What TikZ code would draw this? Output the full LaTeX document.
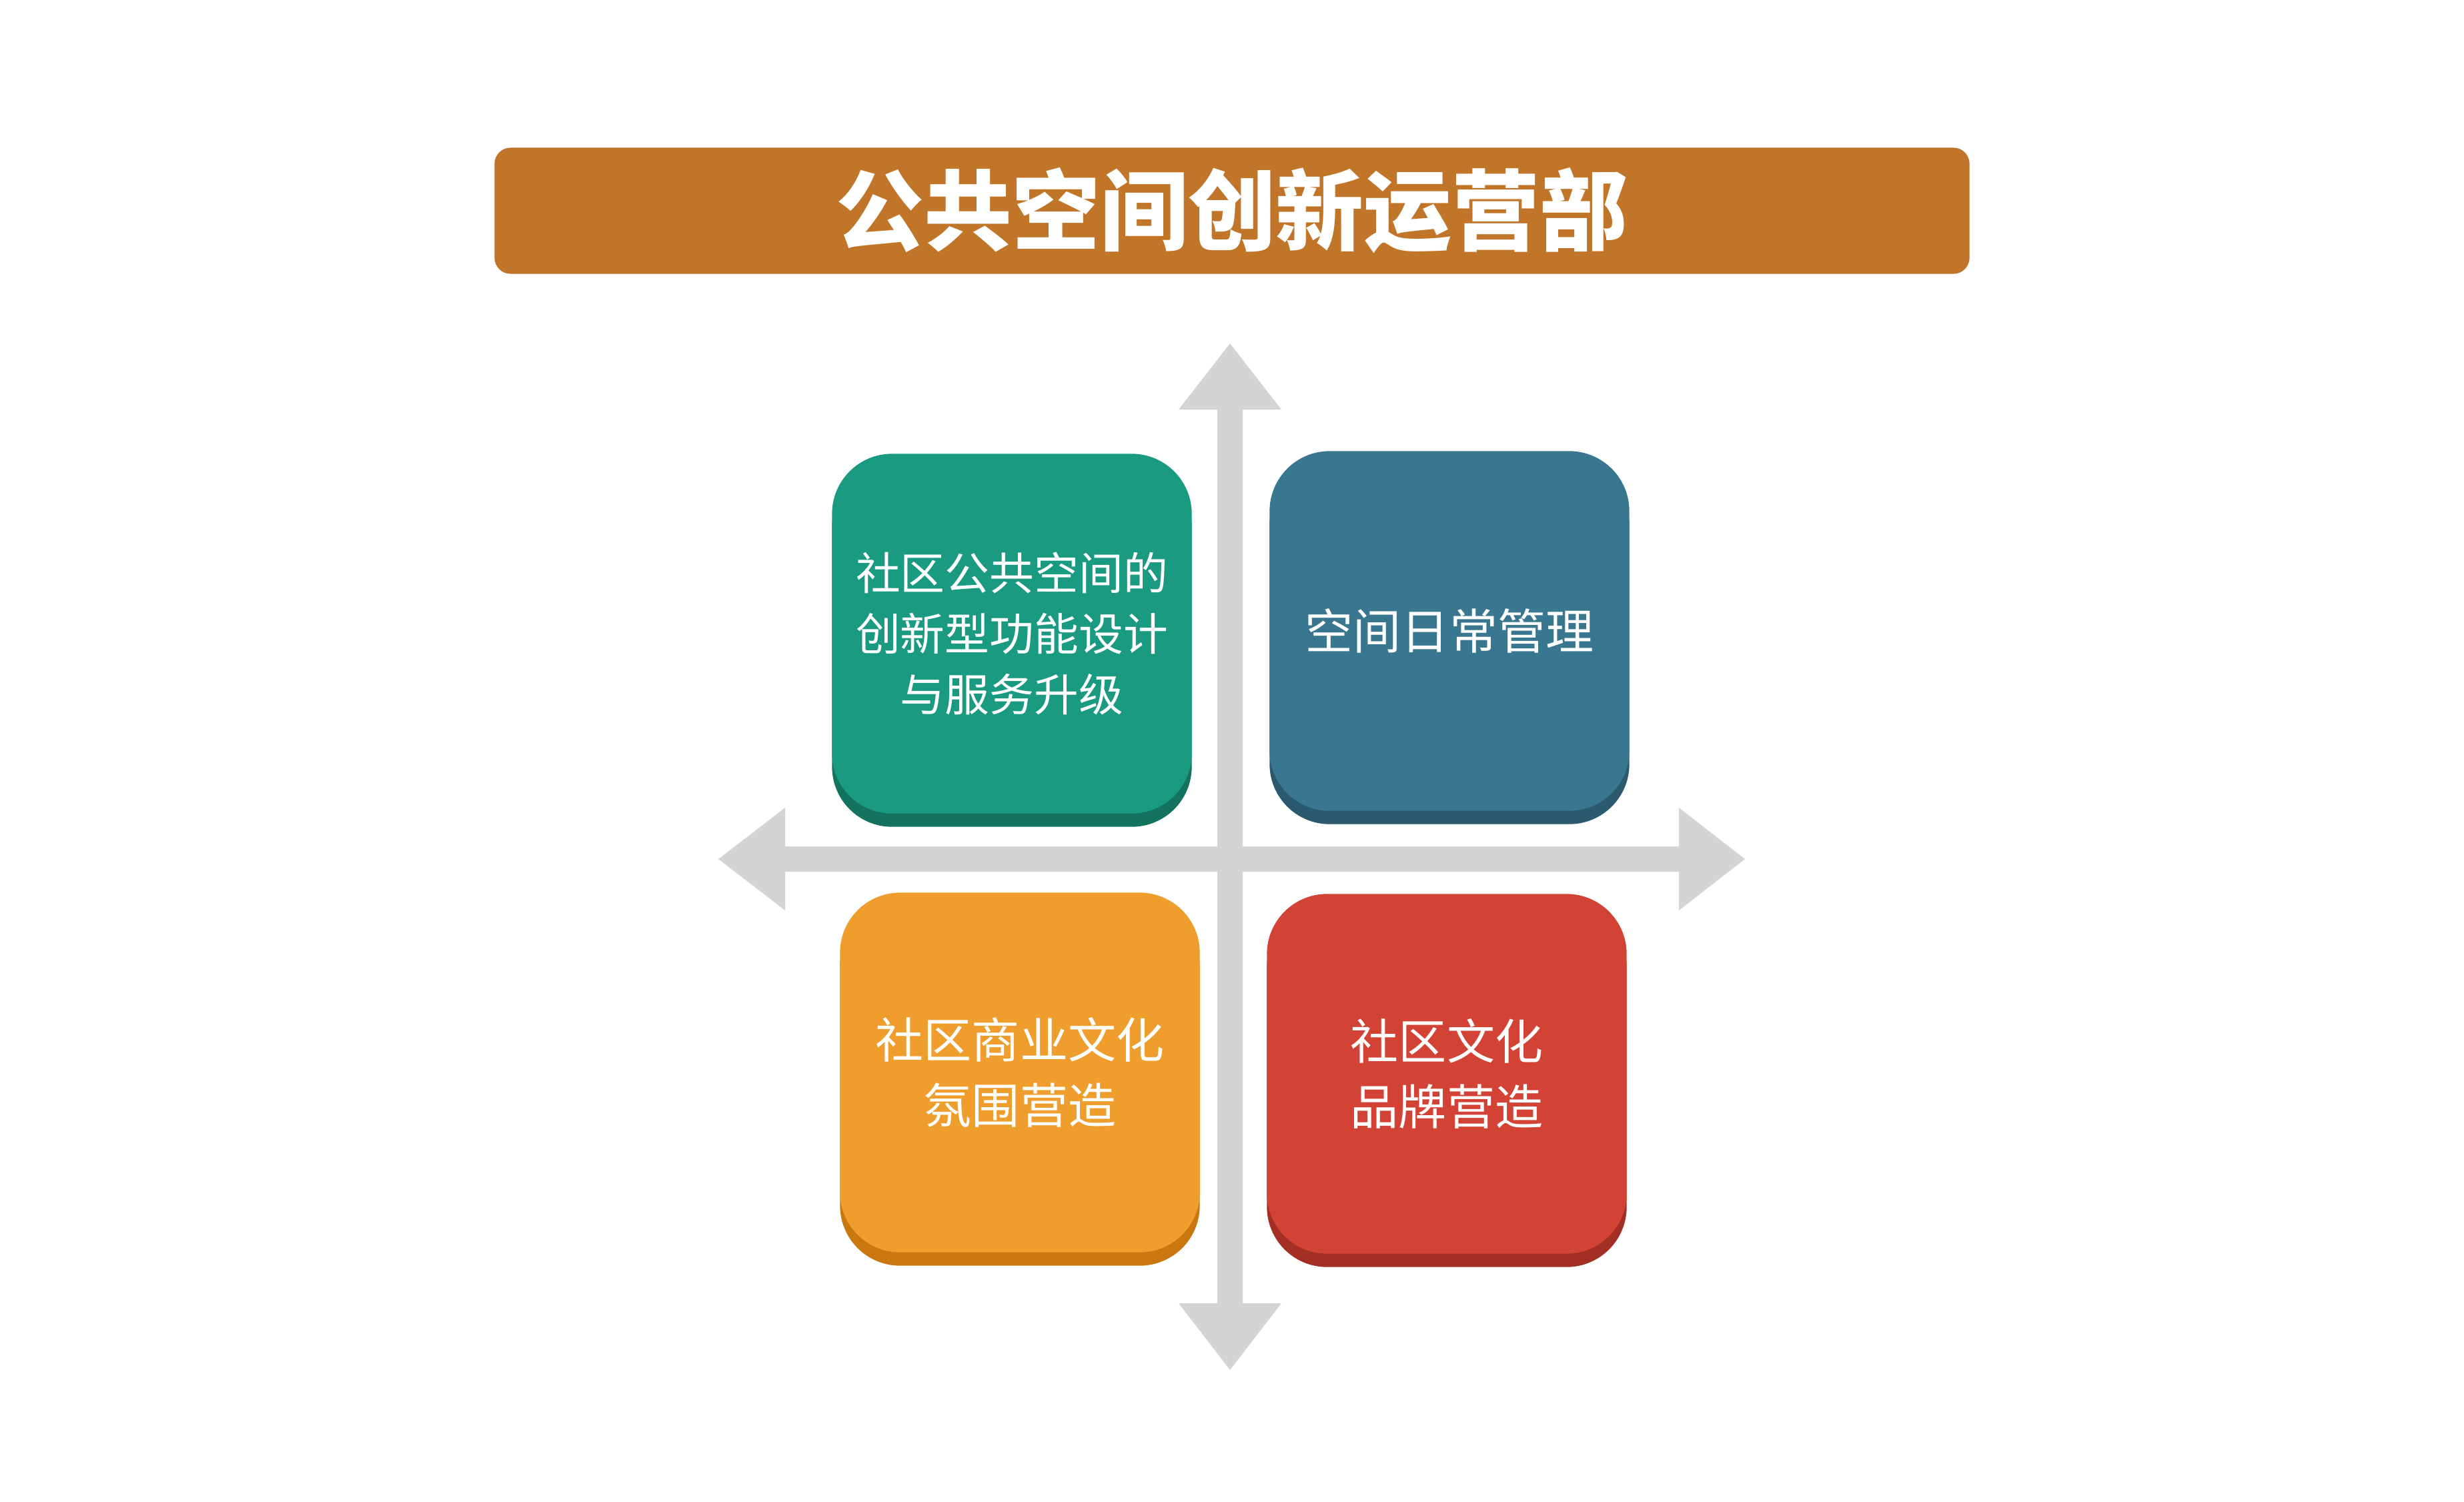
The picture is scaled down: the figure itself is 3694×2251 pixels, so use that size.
\documentclass[tikz,border=0pt]{standalone}
\usepackage{fontspec}
\setmainfont{Noto Sans CJK SC}
\usepackage{tikz}
\usetikzlibrary{shadows}
\usepackage{xcolor}
\definecolor{barBrown}{HTML}{C17529}
\definecolor{axisGray}{HTML}{D4D4D4}
\definecolor{tealFace}{HTML}{1A9A80}
\definecolor{tealDeep}{HTML}{13735F}
\definecolor{blueFace}{HTML}{38778F}
\definecolor{blueDeep}{HTML}{2B5A6E}
\definecolor{amberFace}{HTML}{EF9D2C}
\definecolor{amberDeep}{HTML}{C8780E}
\definecolor{redFace}{HTML}{D34335}
\definecolor{redDeep}{HTML}{A32E24}

\begin{document}
\begin{tikzpicture}[x=0.01cm,y=-0.01cm,
  banner/.style={fill=barBrown,rounded corners=0.24cm,minimum width=22.1cm,minimum height=1.89cm,
    text=white,font=\fontsize{37.5pt}{40pt}\selectfont\bfseries},
  axis/.style={fill=axisGray},
  tile/.style={rounded corners=0.9cm,minimum width=5.39cm,minimum height=5.39cm,inner sep=0pt,
    align=center,text=white,font=\fontsize{19pt}{26pt}\selectfont},
  big text/.style={font=\fontsize{20.5pt}{28pt}\selectfont},
  tile shade/.style={general shadow={fill=#1,shadow yshift=-0.2cm}}]

  \useasboundingbox (0,0) rectangle (3694,2251);

  \node[banner] (head) at (1847,316) {公共空间创新运营部};

  % axes
  \coordinate (west) at (1077,1288);
  \coordinate (east) at (2616,1288);
  \coordinate (north) at (1844,515);
  \coordinate (south) at (1844,2054);
  \fill[axis] (west) -- ++(100,-77) -- ++(0,58) -- ++(1340,0) -- ++(0,-58) -- (east)
    -- ++(-99,77) -- ++(0,-58) -- ++(-1340,0) -- ++(0,58) -- cycle;
  \fill[axis] (north) -- ++(-77,99) -- ++(58,0) -- ++(0,1340) -- ++(-58,0) -- (south)
    -- ++(77,-100) -- ++(-58,0) -- ++(0,-1340) -- ++(58,0) -- cycle;

  \node[tile,fill=tealFace,tile shade=tealDeep] (design) at (1517,950)
        {社区公共空间的\\创新型功能设计\\与服务升级};
  \node[tile,big text,fill=blueFace,tile shade=blueDeep] (manage) at (2173,946)
        {空间日常管理};
  \node[tile,big text,fill=amberFace,tile shade=amberDeep] (commerce) at (1529,1608)
        {社区商业文化\\氛围营造};
  \node[tile,big text,fill=redFace,tile shade=redDeep] (brand) at (2169,1610)
        {社区文化\\品牌营造};
\end{tikzpicture}
\end{document}
